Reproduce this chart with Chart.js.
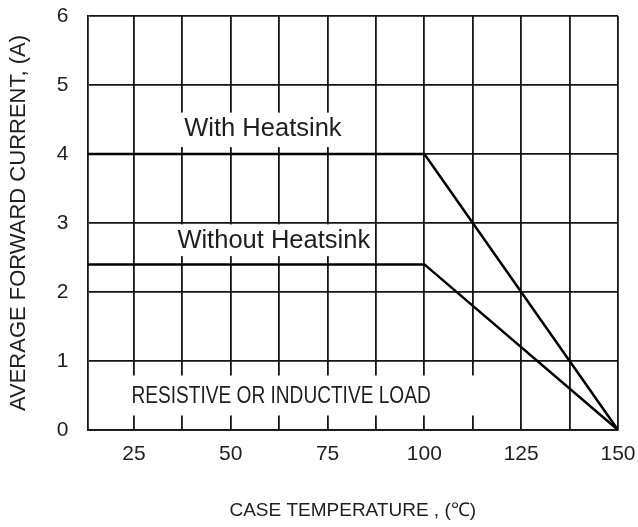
<!DOCTYPE html>
<html>
<head>
<meta charset="utf-8">
<script src="https://cdn.jsdelivr.net/npm/chart.js@4.4.0/dist/chart.umd.min.js"></script>
<style>
  html, body { margin: 0; padding: 0; background: #fff; }
  canvas { display: block; }
</style>
</head>
<body>
<canvas id="grafico" width="638" height="527"></canvas>
<script>
// case temperature (C) and average forward current (A)
const temperature = [13, 100, 150];
const withHeatsink = [4, 4, 0];
const withoutHeatsink = [2.4, 2.4, 0];
const xGridTicks = [25, 37.5, 50, 62.5, 75, 87.5, 100, 112.5, 125, 137.5, 150];
const noteTexts = ["With Heatsink", "Without Heatsink", "RESISTIVE OR INDUCTIVE LOAD"];

// where the notes sit, in data units (box = white patch that hides the grid)
const notes = [
  { text: noteTexts[0], cx: 58.3, cy: 4.36, box: [37, 80, 4.1, 4.6], size: 25.5, squeeze: 1 },
  { text: noteTexts[1], cx: 61.1, cy: 2.74, box: [35.6, 86.5, 2.52, 2.98], size: 25.5, squeeze: 1 },
  { text: noteTexts[2], cx: 63.0, cy: 0.49, box: [24, 114.4, 0.21, 0.79], size: 23, squeeze: 0.83 },
];

const FONT = "'Liberation Sans', Arial, sans-serif";
Chart.defaults.font.family = FONT;
Chart.defaults.color = "#1e1e1e";

const notesPlugin = {
  id: "notes",
  beforeDatasetsDraw(chart) {
    const { ctx, scales: { x, y } } = chart;
    notes.forEach(function (n) {
      const x0 = x.getPixelForValue(n.box[0]);
      const x1 = x.getPixelForValue(n.box[1]);
      const y0 = y.getPixelForValue(n.box[3]);
      const y1 = y.getPixelForValue(n.box[2]);
      ctx.save();
      ctx.fillStyle = "#fff";
      ctx.fillRect(x0, y0, x1 - x0, y1 - y0);
      ctx.translate(x.getPixelForValue(n.cx), y.getPixelForValue(n.cy));
      ctx.scale(n.squeeze, 1);
      ctx.font = n.size + "px " + FONT;
      ctx.fillStyle = "#1e1e1e";
      ctx.textAlign = "center";
      ctx.textBaseline = "middle";
      ctx.fillText(n.text, 0, 0);
      ctx.restore();
    });
  },
};

const toPoints = (ys) => temperature.map((t, i) => ({ x: t, y: ys[i] }));

const lineStyle = {
  borderColor: "#000",
  borderWidth: 2.5,
  pointRadius: 0,
  tension: 0,
  fill: false,
};

const gridStyle = { color: "#151515", lineWidth: 1.8, drawTicks: false };
const borderStyle = { display: true, color: "#151515", width: 1.8 };

new Chart(document.getElementById("grafico").getContext("2d"), {
  type: "line",
  data: {
    datasets: [
      Object.assign({ label: noteTexts[0], data: toPoints(withHeatsink) }, lineStyle),
      Object.assign({ label: noteTexts[1], data: toPoints(withoutHeatsink) }, lineStyle),
    ],
  },
  options: {
    responsive: false,
    animation: false,
    layout: { padding: { top: 16, right: 20, left: 0, bottom: 0 } },
    plugins: { legend: { display: false }, tooltip: { enabled: false } },
    scales: {
      x: {
        type: "linear",
        min: 13,
        max: 150,
        afterBuildTicks: (s) => { s.ticks = xGridTicks.map((v) => ({ value: v })); },
        afterFit: (s) => { s.height = 97; s.paddingLeft = 0; s.paddingRight = 0; },
        grid: gridStyle,
        border: borderStyle,
        ticks: {
          autoSkip: false,
          maxRotation: 0,
          padding: 12,
          font: { size: 21 },
          callback: (v) => (v % 25 === 0 ? v : ""),
        },
        title: {
          display: true,
          text: "CASE TEMPERATURE , (℃)",
          font: { size: 19 },
          padding: { top: 0, bottom: 5 },
        },
      },
      y: {
        min: 0,
        max: 6,
        afterFit: (s) => { s.width = 87.5; s.paddingTop = 0; s.paddingBottom = 0; },
        grid: gridStyle,
        border: borderStyle,
        ticks: { stepSize: 1, padding: 19, font: { size: 21 } },
        title: {
          display: true,
          text: "AVERAGE FORWARD CURRENT, (A)",
          font: { size: 22 },
          padding: { top: 6, bottom: 0 },
        },
      },
    },
  },
  plugins: [notesPlugin],
});
</script>
</body>
</html>
